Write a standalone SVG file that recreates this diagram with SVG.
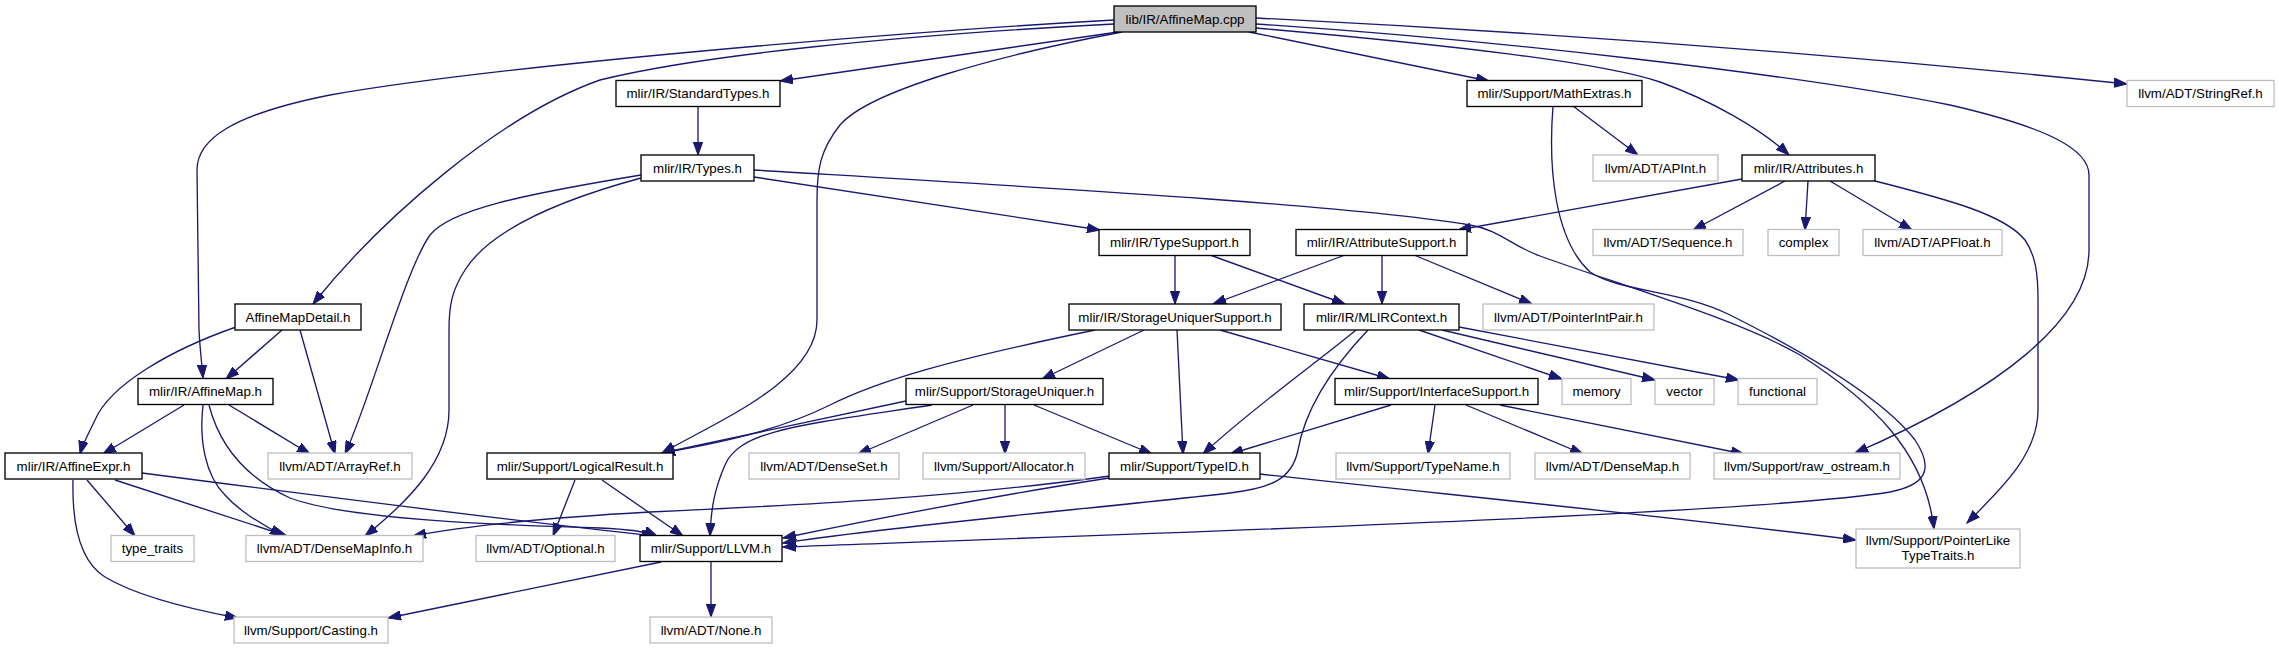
<svg xmlns="http://www.w3.org/2000/svg" width="2279" height="649" viewBox="0 0 2279 649">
<style>
.bg{fill:#ffffff}
.d rect{fill:#ffffff;stroke:#000000;stroke-width:1.33}
.x rect{fill:#ffffff;stroke:#bfbfbf;stroke-width:1.33}
.r rect{fill:#bfbfbf;stroke:#000000;stroke-width:1.33}
text{font-family:"Liberation Sans",Helvetica,Arial,sans-serif;font-size:13.33px;fill:#000000;text-anchor:middle}
.e path{fill:none;stroke:#191970;stroke-width:1.33;marker-end:url(#a)}
</style>
<defs>
<marker id="a" markerWidth="14" markerHeight="10" refX="13" refY="5" orient="auto" markerUnits="userSpaceOnUse" viewBox="0 0 14 10">
<path d="M0,0.3 L13,5 L0,9.7 z" fill="#191970" stroke="#191970" stroke-width="1"/>
</marker>
</defs>
<rect class="bg" x="0" y="0" width="2279" height="649"/>

<g id="edges" class="e">
<path d="M1118,32 L780,81"/>
<path d="M1249,32 L1489,81"/>
<path d="M1256,18 Q1700,40 2127,84"/>
<path d="M1256,24 C1500,40 1800,75 1950,105 C2050,128 2089,150 2089,175 L2089,250 C2089,320 2000,390 1855,453"/>
<path d="M1256,28 C1450,45 1600,62 1660,82 C1710,100 1760,128 1789,155"/>
<path d="M1114,20 C900,32 500,65 330,95 C230,115 197,140 197,170 L199,330 C200,350 202,365 203,378"/>
<path d="M1114,24 C900,35 700,55 600,80 C500,115 380,220 313,304"/>
<path d="M1122,32 C1000,55 870,90 840,125 C820,150 817,170 817,200 L817,320 C817,380 720,420 662,453"/>
<path d="M698,106 L698,155"/>
<path d="M754,177 L1100,230"/>
<path d="M641,175 C520,195 450,210 430,235 C405,270 370,400 345,454"/>
<path d="M641,178 C560,200 490,230 465,270 C452,290 449,305 449,330 L449,410 C449,460 410,500 365,536"/>
<path d="M754,170 C1050,188 1350,205 1470,225 C1500,230 1510,245 1540,256 C1620,285 1740,320 1800,355 C1870,400 1925,450 1934,529"/>
<path d="M1573,106 L1638,155"/>
<path d="M1553,106 C1548,170 1555,240 1590,272 C1620,292 1680,290 1730,315 C1800,350 1880,395 1915,440 C1935,470 1925,485 1890,492 C1750,515 1100,535 783,547"/>
<path d="M1742,179 L1458,230"/>
<path d="M1785,181 L1693,230"/>
<path d="M1808,181 L1805,230"/>
<path d="M1830,181 L1912,230"/>
<path d="M1875,181 C1950,200 2005,215 2025,240 C2036,256 2038,275 2038,300 L2038,410 C2038,455 2000,490 1967,523"/>
<path d="M1175,255 L1175,304"/>
<path d="M1210,255 L1345,304"/>
<path d="M1345,255 L1213,304"/>
<path d="M1382,255 L1382,304"/>
<path d="M1414,255 L1532,304"/>
<path d="M282,330 L226,379"/>
<path d="M300,330 L335,454"/>
<path d="M236,327 C170,350 110,385 95,420 C88,435 83,443 80,454"/>
<path d="M184,405 L103,454"/>
<path d="M229,405 L310,454"/>
<path d="M203,405 C199,440 205,475 225,495 C240,512 262,524 283,536"/>
<path d="M209,405 C218,440 240,475 290,498 C350,520 500,525 600,528 C625,529 645,531 657,536"/>
<path d="M142,473 C350,500 550,525 655,536"/>
<path d="M87,480 L135,536"/>
<path d="M115,480 L287,536"/>
<path d="M73,480 C72,520 78,560 105,577 C140,598 195,610 238,618"/>
<path d="M1095,330 C950,360 880,380 830,405 C780,430 720,443 662,453"/>
<path d="M1144,330 L1042,379"/>
<path d="M1177,330 L1183,454"/>
<path d="M1220,330 L1390,379"/>
<path d="M906,401 L662,453"/>
<path d="M932,405 C800,425 740,430 725,465 C714,490 711,510 710,536"/>
<path d="M973,405 L858,454"/>
<path d="M1005,405 L1005,454"/>
<path d="M1034,405 L1152,454"/>
<path d="M1356,330 C1320,360 1250,410 1203,454"/>
<path d="M1368,330 C1330,370 1305,410 1298,450 C1292,480 1270,488 1230,493 C1100,508 900,525 783,543"/>
<path d="M1419,330 L1562,379"/>
<path d="M1442,330 L1655,380"/>
<path d="M1459,327 L1739,380"/>
<path d="M1391,405 L1230,454"/>
<path d="M1435,405 L1428,454"/>
<path d="M1466,405 L1583,454"/>
<path d="M1500,405 L1744,454"/>
<path d="M1109,478 C1000,495 870,520 783,538"/>
<path d="M1110,476 C950,498 800,505 650,512 C560,517 470,525 413,536"/>
<path d="M1260,474 C1500,500 1700,520 1856,540"/>
<path d="M575,480 L553,536"/>
<path d="M602,480 L683,536"/>
<path d="M661,562 L388,618"/>
<path d="M711,562 L711,617"/>
</g>

<g id="n_root" class="r"><rect x="1114" y="6" width="142" height="26"/><text x="1185" y="23.7">lib/IR/AffineMap.cpp</text></g>
<g id="n_StandardTypes" class="d"><rect x="616" y="80.5" width="164" height="26"/><text x="698" y="98.2">mlir/IR/StandardTypes.h</text></g>
<g id="n_MathExtras" class="d"><rect x="1467" y="80.5" width="175" height="26"/><text x="1554.5" y="98.2">mlir/Support/MathExtras.h</text></g>
<g id="n_StringRef" class="x"><rect x="2127" y="80.5" width="147" height="26"/><text x="2200.5" y="98.2">llvm/ADT/StringRef.h</text></g>
<g id="n_Types" class="d"><rect x="641" y="155" width="113" height="26"/><text x="697.5" y="172.7">mlir/IR/Types.h</text></g>
<g id="n_APInt" class="x"><rect x="1593" y="155" width="125" height="26"/><text x="1655.5" y="172.7">llvm/ADT/APInt.h</text></g>
<g id="n_Attributes" class="d"><rect x="1742" y="155" width="133" height="26"/><text x="1808.5" y="172.7">mlir/IR/Attributes.h</text></g>
<g id="n_TypeSupport" class="d"><rect x="1099" y="229.5" width="151" height="26"/><text x="1174.5" y="247.2">mlir/IR/TypeSupport.h</text></g>
<g id="n_AttributeSupport" class="d"><rect x="1296" y="229.5" width="171" height="26"/><text x="1381.5" y="247.2">mlir/IR/AttributeSupport.h</text></g>
<g id="n_Sequence" class="x"><rect x="1593" y="229.5" width="150" height="26"/><text x="1668" y="247.2">llvm/ADT/Sequence.h</text></g>
<g id="n_complex" class="x"><rect x="1768" y="229.5" width="71" height="26"/><text x="1803.5" y="247.2">complex</text></g>
<g id="n_APFloat" class="x"><rect x="1863" y="229.5" width="139" height="26"/><text x="1932.5" y="247.2">llvm/ADT/APFloat.h</text></g>
<g id="n_AffineMapDetail" class="d"><rect x="235" y="304" width="126" height="26"/><text x="298" y="321.7">AffineMapDetail.h</text></g>
<g id="n_StorageUniquerSupport" class="d"><rect x="1069" y="304" width="212" height="26"/><text x="1175" y="321.7">mlir/IR/StorageUniquerSupport.h</text></g>
<g id="n_MLIRContext" class="d"><rect x="1304" y="304" width="155" height="26"/><text x="1381.5" y="321.7">mlir/IR/MLIRContext.h</text></g>
<g id="n_PointerIntPair" class="x"><rect x="1483" y="304" width="171" height="26"/><text x="1568.5" y="321.7">llvm/ADT/PointerIntPair.h</text></g>
<g id="n_AffineMap" class="d"><rect x="138" y="378.5" width="135" height="26"/><text x="205.5" y="396.2">mlir/IR/AffineMap.h</text></g>
<g id="n_StorageUniquer" class="d"><rect x="906" y="378.5" width="197" height="26"/><text x="1004.5" y="396.2">mlir/Support/StorageUniquer.h</text></g>
<g id="n_InterfaceSupport" class="d"><rect x="1335" y="378.5" width="203" height="26"/><text x="1436.5" y="396.2">mlir/Support/InterfaceSupport.h</text></g>
<g id="n_memory" class="x"><rect x="1562" y="378.5" width="69" height="26"/><text x="1596.5" y="396.2">memory</text></g>
<g id="n_vector" class="x"><rect x="1655" y="378.5" width="59" height="26"/><text x="1684.5" y="396.2">vector</text></g>
<g id="n_functional" class="x"><rect x="1738" y="378.5" width="79" height="26"/><text x="1777.5" y="396.2">functional</text></g>
<g id="n_AffineExpr" class="d"><rect x="5" y="453" width="137" height="26"/><text x="73.5" y="470.7">mlir/IR/AffineExpr.h</text></g>
<g id="n_ArrayRef" class="x"><rect x="268" y="453" width="144" height="26"/><text x="340" y="470.7">llvm/ADT/ArrayRef.h</text></g>
<g id="n_LogicalResult" class="d"><rect x="487" y="453" width="186" height="26"/><text x="580" y="470.7">mlir/Support/LogicalResult.h</text></g>
<g id="n_DenseSet" class="x"><rect x="749" y="453" width="150" height="26"/><text x="824" y="470.7">llvm/ADT/DenseSet.h</text></g>
<g id="n_Allocator" class="x"><rect x="923" y="453" width="162" height="26"/><text x="1004" y="470.7">llvm/Support/Allocator.h</text></g>
<g id="n_TypeID" class="d"><rect x="1109" y="453" width="151" height="26"/><text x="1184.5" y="470.7">mlir/Support/TypeID.h</text></g>
<g id="n_TypeName" class="x"><rect x="1336" y="453" width="174" height="26"/><text x="1423" y="470.7">llvm/Support/TypeName.h</text></g>
<g id="n_DenseMap" class="x"><rect x="1535" y="453" width="155" height="26"/><text x="1612.5" y="470.7">llvm/ADT/DenseMap.h</text></g>
<g id="n_raw_ostream" class="x"><rect x="1714" y="453" width="186" height="26"/><text x="1807" y="470.7">llvm/Support/raw_ostream.h</text></g>
<g id="n_type_traits" class="x"><rect x="111" y="535.5" width="83" height="26"/><text x="152.5" y="553.2">type_traits</text></g>
<g id="n_DenseMapInfo" class="x"><rect x="246" y="535.5" width="177" height="26"/><text x="334.5" y="553.2">llvm/ADT/DenseMapInfo.h</text></g>
<g id="n_Optional" class="x"><rect x="476" y="535.5" width="139" height="26"/><text x="545.5" y="553.2">llvm/ADT/Optional.h</text></g>
<g id="n_LLVM" class="d"><rect x="640" y="535.5" width="142" height="26"/><text x="711" y="553.2">mlir/Support/LLVM.h</text></g>
<g id="n_PointerLikeTypeTraits" class="x"><rect x="1856" y="529" width="164" height="39"/><text x="1938" y="544.5">llvm/Support/PointerLike</text><text x="1938" y="559.5">TypeTraits.h</text></g>
<g id="n_Casting" class="x"><rect x="234" y="617" width="154" height="26"/><text x="311" y="634.7">llvm/Support/Casting.h</text></g>
<g id="n_None" class="x"><rect x="650" y="617" width="122" height="26"/><text x="711" y="634.7">llvm/ADT/None.h</text></g>
</svg>
